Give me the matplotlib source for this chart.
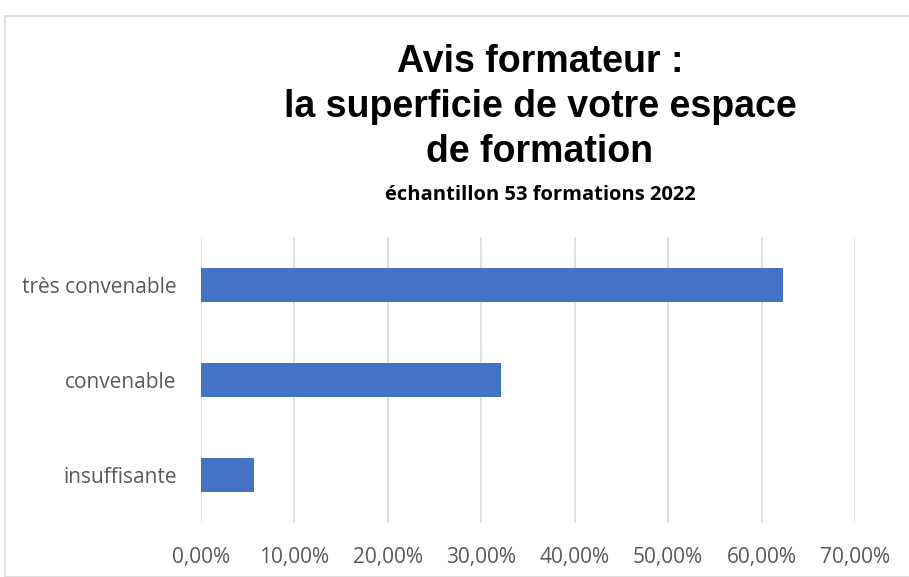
import matplotlib
matplotlib.use("Agg")
import matplotlib.pyplot as plt
from matplotlib.ticker import FuncFormatter
from matplotlib.patches import Rectangle

categories = ["insuffisante", "convenable", "très convenable"]
values = [5.66, 32.08, 62.26]
xticks = [0, 10, 20, 30, 40, 50, 60, 70]

plt.rcParams['font.family'] = ['Open Sans', 'DejaVu Sans']

W, H = 909, 577
fig = plt.figure(figsize=(W/100, H/100), dpi=100)
fig.patch.set_facecolor("white")

# outer border
fig.patches.append(Rectangle((5/W, 0), (W-5)/W + 0.1, (H-16)/H, transform=fig.transFigure,
                             fill=False, edgecolor="#d9d9d9", linewidth=1.2))

ax = fig.add_axes([201/W, (H-523)/H, (855-201)/W, (523-237)/H])
ax.barh(range(len(categories)), values, height=0.36, color="#4472c4", zorder=3)
ax.set_xlim(0, 70)
ax.set_ylim(-0.5, len(categories) - 0.5)
ax.set_xticks(xticks)
ax.xaxis.set_major_formatter(FuncFormatter(lambda v, p: f"{v:.2f}%".replace(".", ",")))
ax.set_yticks(range(len(categories)))
ax.set_yticklabels(categories)
ax.grid(axis="x", color="#d9d9d9", linewidth=1.2, zorder=0)
for s in ax.spines.values():
    s.set_visible(False)
ax.tick_params(axis="both", length=0, colors="#595959", labelsize=15)
ax.tick_params(axis="x", pad=17)
ax.tick_params(axis="y", pad=17.5)

title_font = ['Liberation Sans', 'DejaVu Sans']
title_lines = ["Avis formateur :", "la superficie de votre espace", "de formation"]
baselines = [72, 117, 162]
for line, yb in zip(title_lines, baselines):
    fig.text(540/W, 1 - yb/H, line, ha="center", va="baseline",
             fontsize=27, fontweight="bold", color="black", family=title_font)
fig.text(540/W, 1 - 200/H, "échantillon 53 formations 2022", ha="center", va="baseline",
         fontsize=14.5, fontweight="bold", color="black")

fig.savefig("out.png", dpi=100, facecolor="white")
